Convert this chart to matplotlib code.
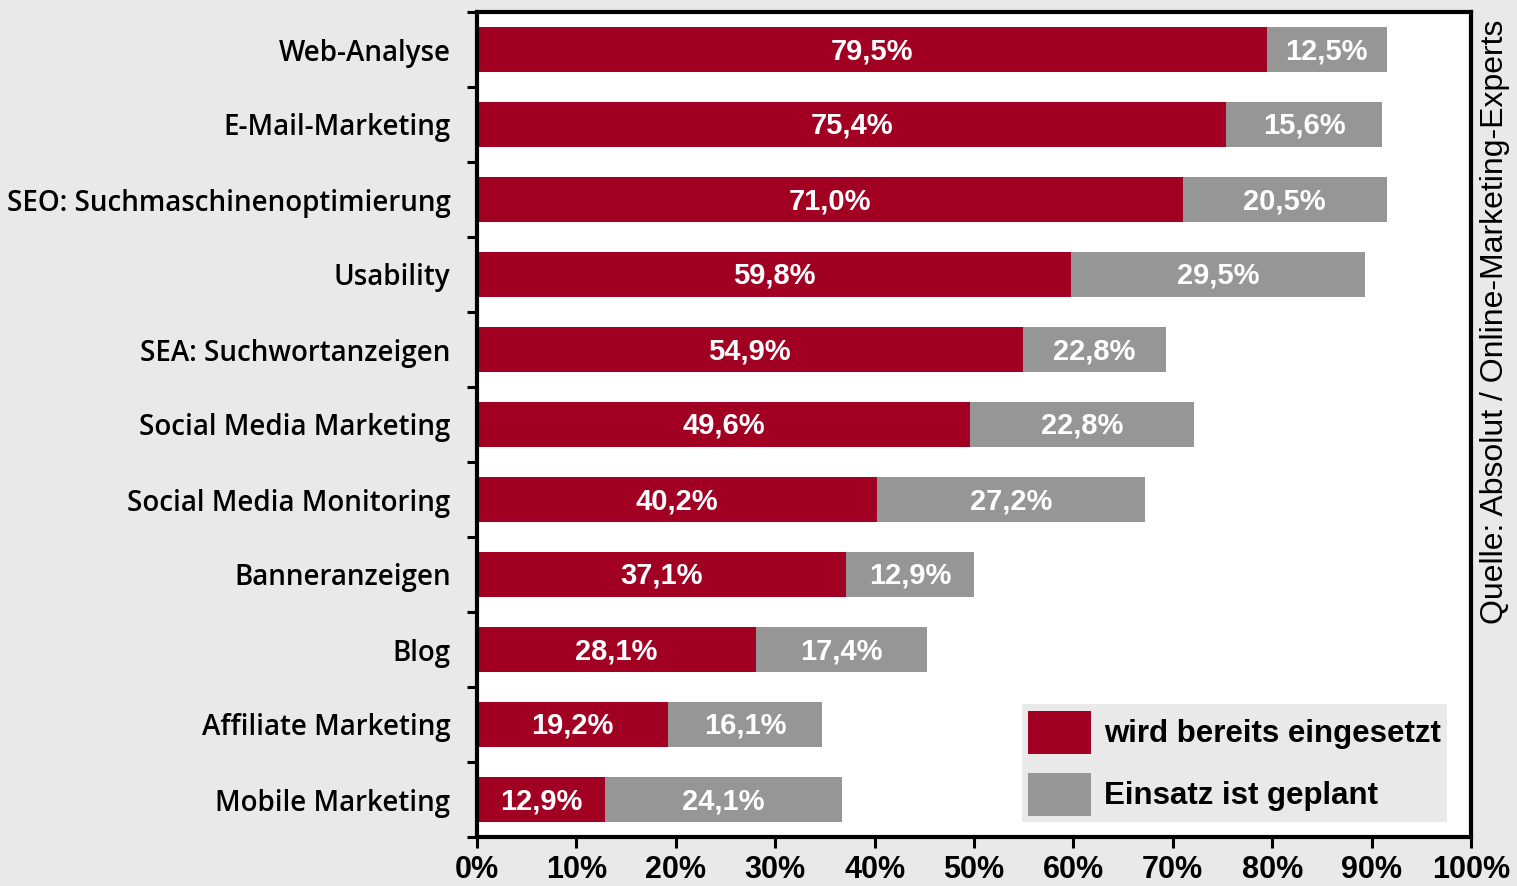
import matplotlib
matplotlib.use("Agg")
import matplotlib.pyplot as plt
from matplotlib.patches import Patch
import numpy as np

categories = ["Web-Analyse", "E-Mail-Marketing", "SEO: Suchmaschinenoptimierung", "Usability",
              "SEA: Suchwortanzeigen", "Social Media Marketing", "Social Media Monitoring",
              "Banneranzeigen", "Blog", "Affiliate Marketing", "Mobile Marketing"]
used = [79.5, 75.4, 71.0, 59.8, 54.9, 49.6, 40.2, 37.1, 28.1, 19.2, 12.9]
planned_labels = ["12,5%", "15,6%", "20,5%", "29,5%", "22,8%", "22,8%", "27,2%",
                  "12,9%", "17,4%", "16,1%", "24,1%"]
# gray segment lengths as drawn in the source graphic
planned_drawn = [12.0, 15.6, 20.5, 29.5, 14.4, 22.5, 27.0, 12.9, 17.2, 15.5, 23.8]
xticks = [0, 10, 20, 30, 40, 50, 60, 70, 80, 90, 100]
xtick_labels = [f"{t}%" for t in xticks]
legend_labels = ["wird bereits eingesetzt", "Einsatz ist geplant"]
source = "Quelle: Absolut / Online-Marketing-Experts"

RED = "#a10023"
GRAY = "#969696"
BG = "#e9e9e9"

fig = plt.figure(figsize=(15.17, 8.86), dpi=100, facecolor=BG)
ax = fig.add_axes([477/1517, 49/886, 994/1517, 825/886])
ax.set_facecolor("white")

y = np.arange(len(categories))
h = 0.59
ax.barh(y, used, height=h, color=RED, edgecolor="none")
ax.barh(y, planned_drawn, left=used, height=h, color=GRAY, edgecolor="none")

vfont = dict(family=["Liberation Sans", "DejaVu Sans"], weight="bold", size=21, color="white")
for i in range(len(categories)):
    ax.text(used[i] / 2, y[i] + 0.02, f"{used[i]:.1f}%".replace(".", ","), ha="center", va="center", **vfont)
    ax.text(used[i] + planned_drawn[i] / 2, y[i] + 0.02, planned_labels[i], ha="center", va="center", **vfont)

ax.set_xlim(0, 100)
ax.set_ylim(len(categories) - 0.5, -0.5)

for s in ax.spines.values():
    s.set_linewidth(3)
    s.set_color("black")

ax.set_xticks(xticks)
ax.set_xticklabels(xtick_labels, family=["Liberation Sans Narrow", "Liberation Sans"],
                   weight="bold", size=22)
ax.tick_params(axis="x", length=8, width=2.2, pad=5, colors="black")

ax.set_yticks(y)
ax.set_yticklabels(categories, family=["Open Sans", "DejaVu Sans"], weight="semibold", size=20)
ax.tick_params(axis="y", which="major", length=0, pad=19)
ax.set_yticks(np.arange(-0.5, len(categories) + 0.5, 1), minor=True)
ax.tick_params(axis="y", which="minor", length=7, width=2.2)

handles = [Patch(facecolor=RED, edgecolor="none"), Patch(facecolor=GRAY, edgecolor="none")]
leg = ax.legend(handles, legend_labels, loc="lower right", bbox_to_anchor=(0.976, 0.018),
                prop=dict(family=["Liberation Sans", "DejaVu Sans"], weight="bold", size=22.5),
                frameon=True, facecolor=BG, edgecolor="none", framealpha=1, fancybox=False,
                handlelength=2.0, handleheight=1.75, labelspacing=0.6, handletextpad=0.42,
                borderpad=0.2, borderaxespad=0)

fig.text(0.9855, 0.6366, source, rotation=90, ha="center", va="center",
         family=["Liberation Sans Narrow", "Liberation Sans"], size=23, color="black")

fig.savefig("out.png", dpi=100, facecolor=BG)
